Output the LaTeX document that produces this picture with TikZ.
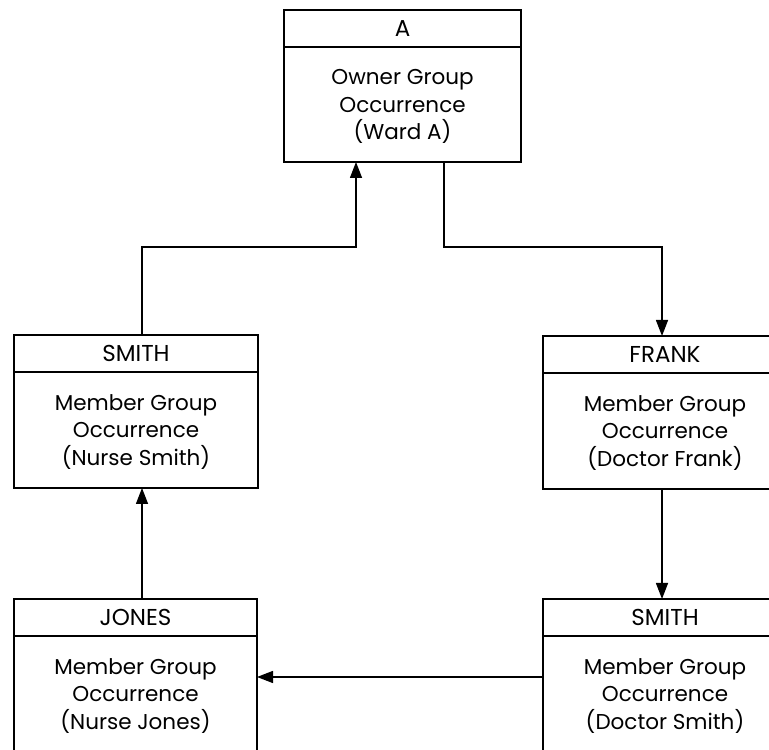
\documentclass[tikz,border=0pt]{standalone}
\usepackage{fontspec}
\setmainfont{Poppins}
\usetikzlibrary{arrows.meta}
\begin{document}
\begin{tikzpicture}[x=1pt,y=1pt,
  hdr/.style={draw, line width=2.2pt, minimum height=37pt, inner sep=0pt, outer sep=0pt, anchor=north,
    font=\fontsize{23}{26}\selectfont},
  body/.style={draw, line width=2.2pt, inner sep=0pt, outer sep=0pt, anchor=north, align=center,
    text depth=0pt, yshift=0pt, font=\fontsize{21.5}{27.5}\selectfont},
  conn/.style={line width=1.4pt},
  arr/.style={conn, -{Triangle[length=16pt,width=12pt]}}]
\useasboundingbox (0,0) rectangle (769,750);
\clip (0,0) rectangle (769,750);
% box A
\node[hdr, minimum width=237pt] (aH) at (402.5,740) {A};
\node[body, minimum width=237pt, minimum height=115pt] (aB) at (aH.south) {Owner Group\\Occurrence\\(Ward A)};
% SMITH nurse
\node[hdr, minimum width=244pt] (sH) at (136,415) {SMITH};
\node[body, minimum width=244pt, minimum height=116pt] (sB) at (sH.south) {Member Group\\Occurrence\\(Nurse Smith)};
% FRANK
\node[hdr, minimum width=244pt] (fH) at (665,414) {FRANK};
\node[body, minimum width=244pt, minimum height=116pt] (fB) at (fH.south) {Member Group\\Occurrence\\(Doctor Frank)};
% JONES
\node[hdr, minimum width=243pt] (jH) at (135.5,151) {JONES};
\node[body, minimum width=243pt, minimum height=116pt] (jB) at (jH.south) {Member Group\\Occurrence\\(Nurse Jones)};
% SMITH doctor
\node[hdr, minimum width=244pt] (dH) at (665,151) {SMITH};
\node[body, minimum width=244pt, minimum height=116pt] (dB) at (dH.south) {Member Group\\Occurrence\\(Doctor Smith)};
% connectors
\draw[arr] ([xshift=6pt]sH.north) -- ++(0,88) -| ([xshift=-46.5pt]aB.south);
\draw[arr] ([xshift=41.5pt]aB.south) -- ++(0,-85) -| ([xshift=-3pt]fH.north);
\draw[arr] ([xshift=-3pt]fB.south) -- ([xshift=-3pt]dH.north);
\draw[arr] (dB.west |- 0,73) -- (jB.east |- 0,73);
\draw[arr] ([xshift=6.5pt]jH.north) -- ([xshift=6pt]sB.south);
\end{tikzpicture}
\end{document}
